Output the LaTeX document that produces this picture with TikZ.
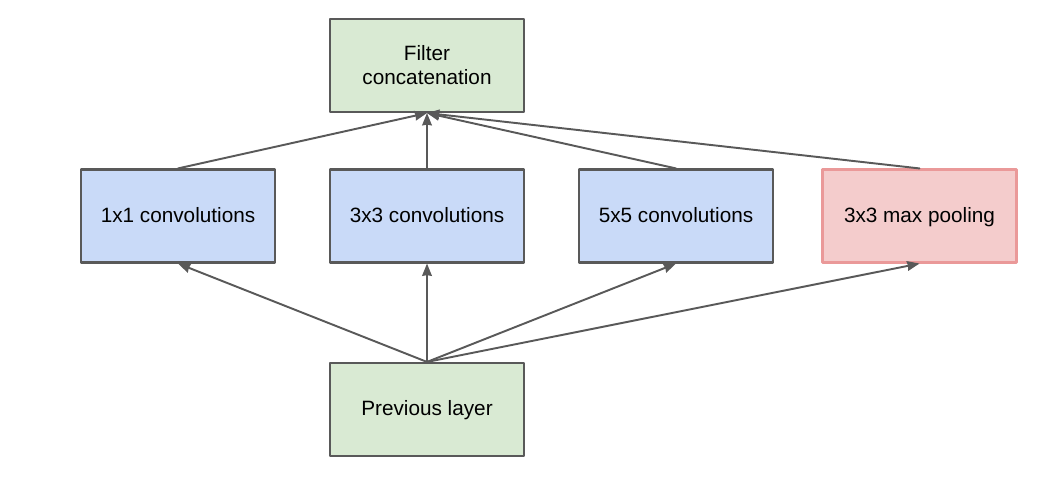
\documentclass[tikz,border=0pt]{standalone}
\usepackage{fontspec}
\setmainfont{Liberation Sans}
\usetikzlibrary{arrows.meta}
\definecolor{boxgreen}{HTML}{D9EAD3}
\definecolor{boxblue}{HTML}{C9DAF8}
\definecolor{boxred}{HTML}{F4CCCC}
\definecolor{redline}{HTML}{EA9999}
\definecolor{darkline}{HTML}{595959}

\begin{document}
\begin{tikzpicture}[>={Stealth[length=7pt,width=5.5pt,inset=0.4pt]}, font=\fontsize{11.8}{13.6}\selectfont, line join=round, line cap=round,
	block/.style={draw=darkline, line width=1.2pt, minimum width=3.88cm, minimum height=1.86cm, align=center, inner sep=0pt},
	oneline/.style={text height=0.92em, text depth=0.2em},
	conn/.style={->, draw=darkline, line width=1.1pt}]
	\def\xw{21.1} \def\yh{9.54}
	\useasboundingbox (0,0) rectangle (\xw,\yh);
	\node[block, fill=boxgreen] (concat) at (8.54,8.23) {Filter\\concatenation};
	\node[block, oneline, fill=boxblue] (conva) at (3.56,5.22) {1x1 convolutions};
	\node[block, oneline, fill=boxblue] (convb) at (8.54,5.22) {3x3 convolutions};
	\node[block, oneline, fill=boxblue] (convc) at (13.52,5.22) {5x5 convolutions};
	\node[block, oneline, fill=boxred, draw=redline] (pool) at (18.39,5.22) {3x3 max pooling};
	\node[block, oneline, fill=boxgreen] (prev) at (8.54,1.35) {Previous layer};
	\foreach \n in {conva,convb,convc,pool}
	{\draw[conn] (prev.north)--(\n.south);
	 \draw[conn] (\n.north)--(concat.south);}
\end{tikzpicture}
\end{document}
